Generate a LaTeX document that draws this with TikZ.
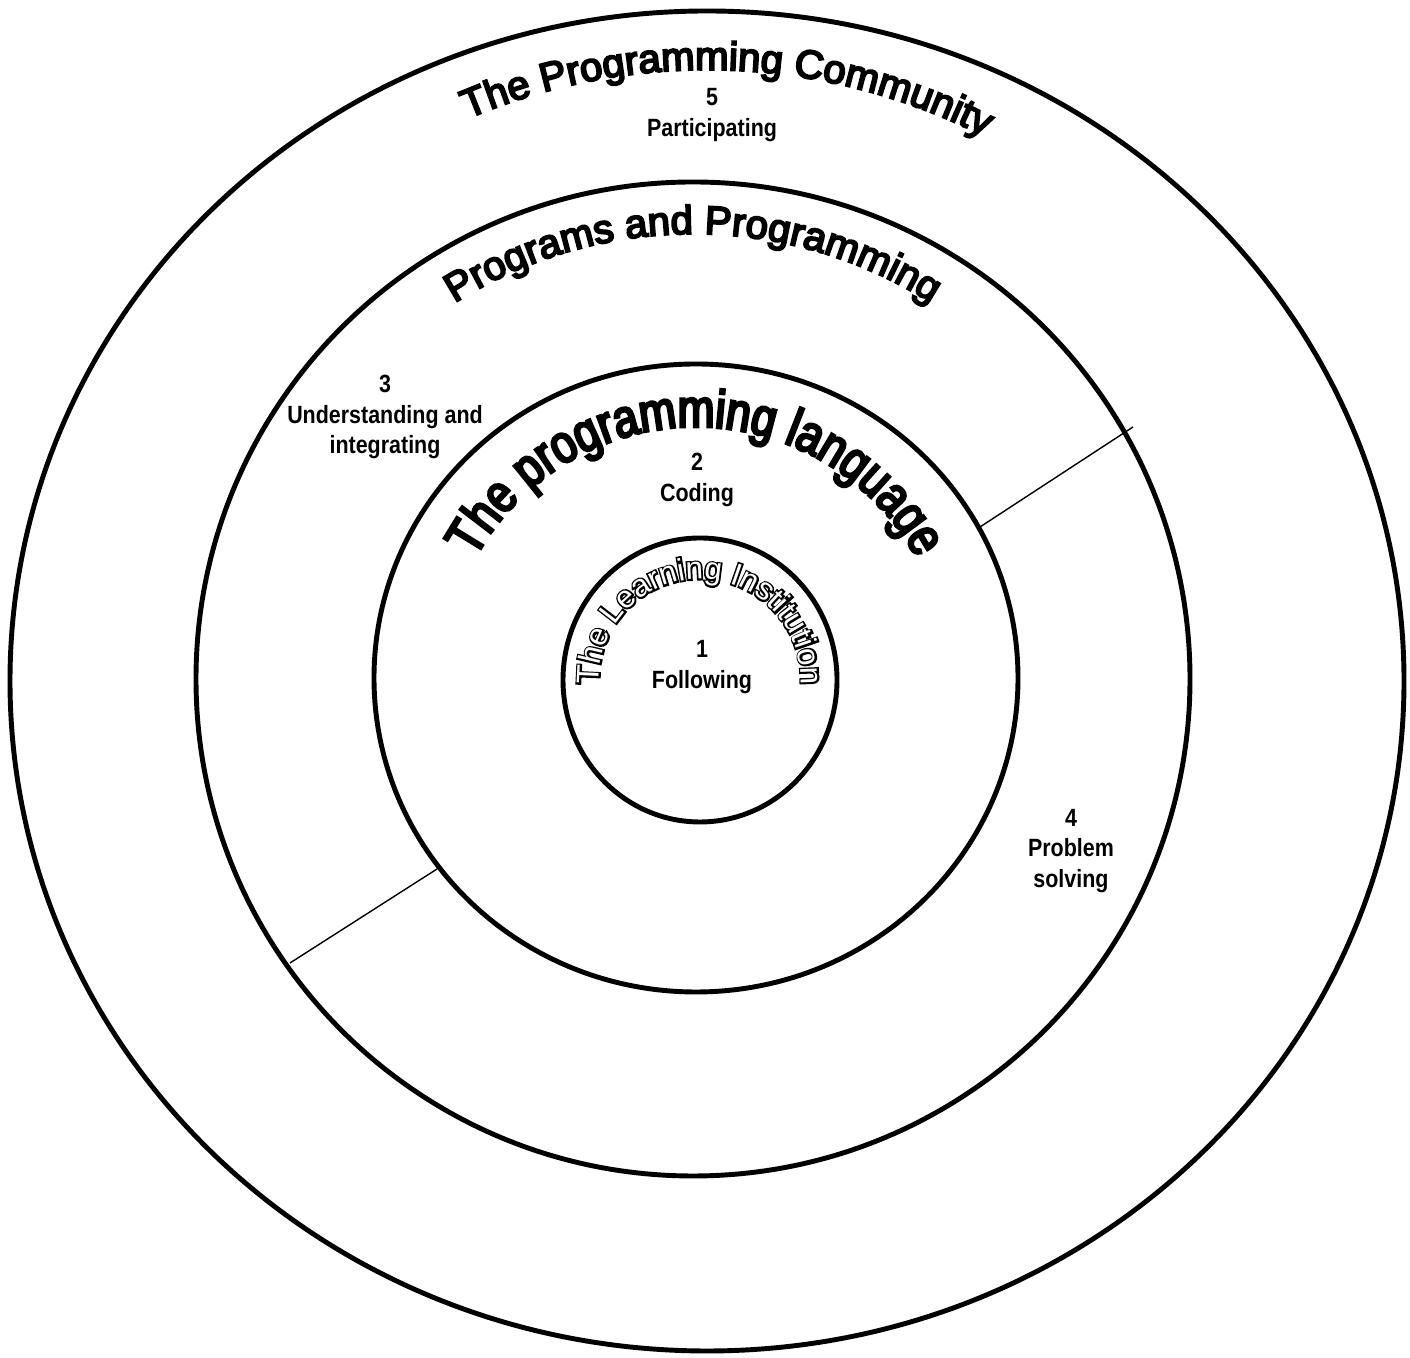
\documentclass[tikz,border=0pt]{standalone}
\usepackage{fontspec}
\setmainfont{Liberation Sans}
\usetikzlibrary{calc,decorations.text}

\newfontfamily\ringfont[FakeBold=5]{Liberation Sans}
\newfontfamily\tallfont[FakeStretch=0.82,FakeBold=5]{Liberation Sans}
\newfontfamily\outlinefont[FakeBold=11]{Liberation Sans}
\newfontfamily\levelfont[FakeStretch=0.86]{Liberation Sans Bold}
\newcommand{\communityfont}{\ringfont\fontsize{22.8}{27}\selectfont}
\newcommand{\languagefont}{\tallfont\fontsize{30.5}{36}\selectfont}
\newcommand{\institutionfont}{\fontsize{17.8}{21}\selectfont}
\newcommand{\institutionoutline}{\outlinefont\fontsize{17.8}{21}\selectfont}

\begin{document}
\begin{tikzpicture}[x=0.02cm,y=0.02cm,
    ring/.style={line width=2.8pt},
    divider/.style={line width=0.8pt},
    level/.style={font=\levelfont\fontsize{14.2}{17.6}\selectfont,align=center}]
  \useasboundingbox (0,0) rectangle (1410,1358);

  \coordinate (community) at (707,677);
  \coordinate (programs) at (693,679);
  \coordinate (language) at (696,680);
  \coordinate (institution) at (700,678);

  % rings
  \draw[ring] (community) ellipse[x radius=697, y radius=670];
  \draw[ring] (programs) circle[radius=497];
  \draw[ring] (language) ellipse[x radius=322, y radius=314];
  \draw[ring] (institution) ellipse[x radius=137, y radius=142];

  % dividers between ring 3 and ring 4
  \coordinate (upper-in) at (980,831);
  \coordinate (upper-out) at (1133,931);
  \coordinate (lower-in) at (437,489);
  \coordinate (lower-out) at (290,395);
  \draw[divider] (upper-in) -- (upper-out);
  \draw[divider] (lower-in) -- (lower-out);

  % arched titles
  \path[decorate, decoration={text along path, text align=center,
      text={|\communityfont|The Programming Community}}]
    ($(community)+(158:611)$) arc[start angle=158, end angle=18, radius=611];
  \path[decorate, decoration={text along path, text align=center,
      text={|\communityfont|Programs and Programming}}]
    ($(programs)+(150:445)$) arc[start angle=150, end angle=30, radius=445];
  \path[decorate, decoration={text along path, text align=center,
      text={|\languagefont|The programming language}}]
    ($(language)+(175:251)$) arc[start angle=175, end angle=5, radius=251];
  \path[decorate, decoration={text along path, text align=center,
      text={|\institutionoutline|The Learning Institution}}]
    ($(institution)+(200:101)$) arc[start angle=200, end angle=-20, radius=101];
  \path[decorate, decoration={text along path, text align=center, text color=white,
      text={|\institutionfont|The Learning Institution}}]
    ($(institution)+(200:101)$) arc[start angle=200, end angle=-20, radius=101];

  % levels
  \node[level] (following) at (702,691) {1\\Following};
  \node[level] (coding) at (697,878) {2\\Coding};
  \node[level] (integrating) at (385,941) {3\\Understanding and\\integrating};
  \node[level] (solving) at (1071,507) {4\\Problem\\solving};
  \node[level] (participating) at (712,1243) {5\\Participating};
\end{tikzpicture}
\end{document}
